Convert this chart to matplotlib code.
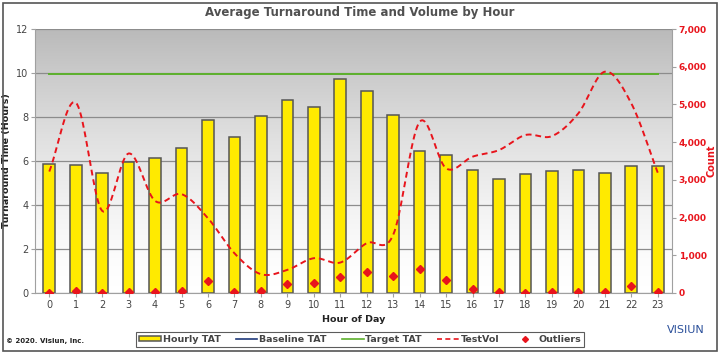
import numpy as np
import matplotlib
matplotlib.use("Agg")
from matplotlib import pyplot as plt
from matplotlib.lines import Line2D
from matplotlib.patches import Rectangle

# data
hours = list(range(24))
hourly_tat = [5.86, 5.83, 5.47, 5.94, 6.12, 6.60, 7.86, 7.08, 8.05, 8.77, 8.47, 9.71,
              9.18, 8.08, 6.45, 6.27, 5.58, 5.18, 5.41, 5.53, 5.59, 5.44, 5.77, 5.77]
target_tat = [9.95] * 24
test_vol = [3220, 5050, 2175, 3700, 2440, 2620, 1980, 1050, 496, 610, 920, 805,
            1320, 1540, 4540, 3305, 3615, 3790, 4190, 4160, 4765, 5870, 5030, 3190]
outliers = [0.0, 0.10, 0.0, 0.06, 0.05, 0.10, 0.56, 0.05, 0.10, 0.42, 0.47, 0.74,
            0.94, 0.79, 1.09, 0.59, 0.17, 0.03, 0.0, 0.03, 0.05, 0.05, 0.32, 0.03]


def smooth(x, y, n=20):
    # catmull-rom curve through the points, like the spreadsheet "smoothed line"
    x = np.asarray(x, float)
    y = np.asarray(y, float)
    px = np.concatenate([[2 * x[0] - x[1]], x, [2 * x[-1] - x[-2]]])
    py = np.concatenate([[2 * y[0] - y[1]], y, [2 * y[-1] - y[-2]]])
    xs, ys = [], []
    t = np.linspace(0, 1, n, endpoint=False)
    for i in range(1, len(px) - 2):
        for p, out in ((px, xs), (py, ys)):
            p0, p1, p2, p3 = p[i - 1], p[i], p[i + 1], p[i + 2]
            out.extend(0.5 * (2 * p1 + (-p0 + p2) * t + (2 * p0 - 5 * p1 + 4 * p2 - p3) * t ** 2
                              + (-p0 + 3 * p1 - 3 * p2 + p3) * t ** 3))
    xs.append(x[-1])
    ys.append(y[-1])
    return np.array(xs), np.array(ys)


fig = plt.figure(figsize=(7.2, 3.55), dpi=100)
fig.patches.append(Rectangle((0.004, 0.01), 0.992, 0.982, transform=fig.transFigure,
                             fill=False, edgecolor="#555555", linewidth=1.2))
ax = fig.add_axes([0.049, 0.175, 0.884, 0.743])

# gray to white background
grad = np.linspace(1, 0, 256).reshape(-1, 1) ** 1.5
cmap = matplotlib.colors.LinearSegmentedColormap.from_list("bg", ["#ffffff", "#bababa"])
ax.imshow(grad, aspect="auto", cmap=cmap, extent=(-0.53, 23.53, 0, 12), zorder=0,
          origin="upper", vmin=0, vmax=1)

ax.set_xlim(-0.53, 23.53)
ax.set_ylim(0, 12)
ax.set_yticks(range(0, 13, 2))
ax.set_xticks(hours)
ax.grid(axis="y", color="#8c8c8c", linewidth=0.9, zorder=1)
ax.set_axisbelow(True)

ax.bar(hours, hourly_tat, width=0.44, color="#ffea00", edgecolor="#555555", linewidth=1.1, zorder=2)
ax.plot(hours, target_tat, color="#5cb02c", linewidth=1.4, zorder=3)
ax.plot(hours, outliers, linestyle="none", marker="D", color="#e8141c", markersize=4.5, zorder=4)

for s in ["top", "right"]:
    ax.spines[s].set_visible(False)
ax.spines["left"].set_color("#a0a0a0")
ax.spines["bottom"].set_color("#a0a0a0")
ax.tick_params(axis="both", colors="#a0a0a0", labelcolor="#444444", labelsize=7, length=3, pad=2)
ax.set_ylabel("Turnaround Time (Hours)", fontsize=6.8, fontweight="bold", color="#222222")
ax.yaxis.set_label_coords(-0.038, 0.5)
ax.set_xlabel("Hour of Day", fontsize=6.8, fontweight="bold", color="#222222")
ax.xaxis.set_label_coords(0.5, -0.085)

ax2 = ax.twinx()
ax2.set_ylim(0, 7000)
ax2.set_yticks(range(0, 7001, 1000))
ax2.set_yticklabels([f"{v:,}" for v in range(0, 7001, 1000)])
sx, sy = smooth(hours, test_vol)
ax2.plot(sx, sy, color="#e8141c", linestyle=(0, (3, 2)), linewidth=1.4)
for s in ["top", "left", "bottom"]:
    ax2.spines[s].set_visible(False)
ax2.spines["right"].set_color("#a0a0a0")
ax2.tick_params(axis="y", colors="#a0a0a0", labelcolor="#e8141c", labelsize=6.5, length=3, pad=2)
for lab in ax2.get_yticklabels():
    lab.set_fontweight("bold")
ax2.set_ylabel("Count", fontsize=7, fontweight="bold", color="#e8141c", va="center")
ax2.yaxis.set_label_coords(1.062, 0.5)

fig.text(0.5, 0.965, "Average Turnaround Time and Volume by Hour", ha="center", va="center",
         fontsize=8.5, fontweight="bold", color="#505050")
fig.text(0.008, 0.04, "\u00a9 2020. Visiun, Inc.", fontsize=5, fontweight="bold", color="#222222",
         va="center")
fig.text(0.978, 0.07, "VISIUN", fontsize=8, color="#2a4f9a", ha="right", va="center")

handles = [
    Rectangle((0, 0), 1, 1, facecolor="#ffea00", edgecolor="#555555", linewidth=1.1),
    Line2D([], [], color="#1f3a7a", linewidth=1.2),
    Line2D([], [], color="#5cb02c", linewidth=1.2),
    Line2D([], [], color="#e8141c", linestyle=(0, (3, 2)), linewidth=1.2),
    Line2D([], [], color="#e8141c", marker="D", linestyle="none", markersize=3),
]
labels = ["Hourly TAT", "Baseline TAT", "Target TAT", "TestVol", "Outliers"]
leg = fig.legend(handles, labels, loc="center", bbox_to_anchor=(0.5, 0.043), ncol=5, frameon=True,
                 fancybox=False, edgecolor="#333333", fontsize=6.8, handlelength=2.3,
                 handleheight=0.45, columnspacing=1.6, handletextpad=0.2, borderpad=0.3)
leg.get_frame().set_linewidth(0.8)
for t in leg.get_texts():
    t.set_color("#444444")
    t.set_fontweight("bold")

fig.savefig("out.png", dpi=100)
